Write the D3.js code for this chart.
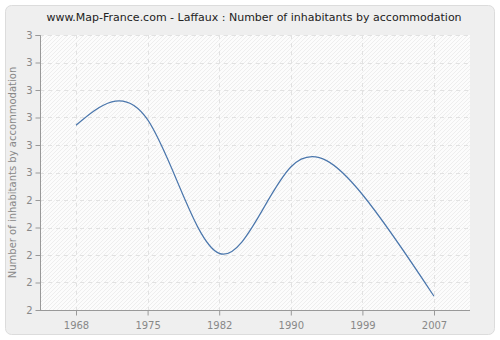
<!DOCTYPE html>
<html>
<head>
<meta charset="utf-8">
<script src="https://cdnjs.cloudflare.com/ajax/libs/d3/7.8.5/d3.min.js"></script>
<style>
  body { margin: 0; background: #fff; }
  text { font-family: "DejaVu Sans", sans-serif; }
</style>
</head>
<body>
<svg id="chart"></svg>
<script>
const width = 500, height = 340;

// data
const years = ["1968", "1975", "1982", "1990", "1999", "2007"];
const inhabitants = [2.672, 2.692, 2.206, 2.52, 2.42, 2.05];
const yTicks = [2, 2.1, 2.2, 2.3, 2.4, 2.5, 2.6, 2.7, 2.8, 2.9, 3];

const margin = {top: 35, right: 30, bottom: 30, left: 40};

const svg = d3.select("#chart")
    .attr("width", width)
    .attr("height", height);

//hatch pattern for the plot background
const defs = svg.append("defs");
const pat = defs.append("pattern")
    .attr("id", "hatch")
    .attr("patternUnits", "userSpaceOnUse")
    .attr("width", 4).attr("height", 4);
pat.append("rect").attr("width", 4).attr("height", 4).attr("fill", "#fcfcfc");
pat.append("path")
    .attr("d", "M-1,5 L5,-1 M-1,1 L1,-1 M3,5 L5,3")
    .attr("stroke", "#ececec").attr("stroke-width", 0.9);

//outer panel
svg.append("rect")
    .attr("x", 5.5).attr("y", 5.5)
    .attr("width", 489).attr("height", 329)
    .attr("rx", 6)
    .attr("fill", "#efefef")
    .attr("stroke", "#dcdcdc");

svg.append("text")
    .attr("x", 254).attr("y", 21)
    .attr("text-anchor", "middle")
    .attr("font-size", 11)
    .attr("fill", "#222")
    .text("www.Map-France.com - Laffaux : Number of inhabitants by accommodation");

const plotW = width - margin.left - margin.right;
const plotH = height - margin.top - margin.bottom;

const g = svg.append("g").attr("transform", `translate(${margin.left},${margin.top})`);

const x = d3.scalePoint()
    .domain(years)
    .range([36, 394]);

const y = d3.scaleLinear()
    .domain([2, 3])
    .range([plotH, 0]);

g.append("rect")
    .attr("width", plotW).attr("height", plotH)
    .attr("fill", "url(#hatch)");

//grid
g.selectAll(".hgrid")
    .data(yTicks.slice(1))
    .join("line")
    .attr("x1", 0).attr("x2", plotW)
    .attr("y1", d => Math.round(y(d)) + 0.5)
    .attr("y2", d => Math.round(y(d)) + 0.5)
    .attr("stroke", "#e2e2e2")
    .attr("stroke-dasharray", "4,4");

g.selectAll(".vgrid")
    .data(years)
    .join("line")
    .attr("x1", d => Math.round(x(d)) + 0.5)
    .attr("x2", d => Math.round(x(d)) + 0.5)
    .attr("y1", 0).attr("y2", plotH)
    .attr("stroke", "#e2e2e2")
    .attr("stroke-dasharray", "4,4");

//axes
const yAxis = g.append("g")
    .attr("transform", "translate(0.5,0)")
    .call(d3.axisLeft(y).tickValues(yTicks).tickSize(5).tickFormat(d => Math.round(d)));
const xAxis = g.append("g")
    .attr("transform", `translate(0,${plotH + 0.5})`)
    .call(d3.axisBottom(x).tickSize(5).tickPadding(6));

[yAxis, xAxis].forEach(a => {
    a.select(".domain").attr("stroke", "#999");
    a.selectAll(".tick line").attr("stroke", "#999");
    a.selectAll(".tick text")
        .attr("fill", "#888")
        .attr("font-size", 10)
        .attr("font-family", "DejaVu Sans, sans-serif");
});
yAxis.select(".domain").attr("d", `M-5,0.5H0V${plotH}`);
xAxis.select(".domain").attr("d", `M0,0H${plotW}`);

svg.append("text")
    .attr("transform", `translate(16,${margin.top + plotH / 2}) rotate(-90)`)
    .attr("text-anchor", "middle")
    .attr("font-size", 10)
    .attr("fill", "#888")
    .text("Number of inhabitants by accommodation");

//the line
const line = d3.line()
    .curve(d3.curveNatural)
    .x((d, i) => x(years[i]))
    .y(d => y(d));

g.append("path")
    .datum(inhabitants)
    .attr("d", line)
    .attr("fill", "none")
    .attr("stroke", "#4a76ac")
    .attr("stroke-width", 1.2);
</script>
</body>
</html>
